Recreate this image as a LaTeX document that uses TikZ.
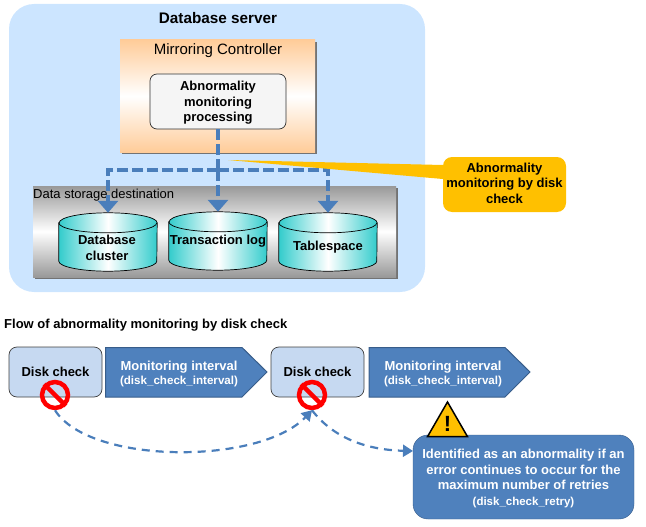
\documentclass[tikz,border=0pt]{standalone}
\usepackage{fontspec}
\setmainfont{Liberation Sans}
\usetikzlibrary{shapes, shapes.geometric}
\usetikzlibrary{arrows, arrows.meta}
\usetikzlibrary{calc, shadows}
\definecolor{serverblue}{HTML}{CCE5FF}
\definecolor{ctrlorange}{HTML}{FFCC99}
\definecolor{tealside}{HTML}{33CCCC}
\definecolor{checkblue}{HTML}{C6D9F1}
\definecolor{flowblue}{HTML}{4F81BD}
\definecolor{flowedge}{HTML}{385D8A}
\definecolor{dashblue}{HTML}{4A7EBB}
\definecolor{calloutgold}{HTML}{FFC000}
\tikzset{
        boldtext/.style={font=\fontsize{13}{15.5}\selectfont\bfseries, align=center},
        smallbold/.style={font=\fontsize{13}{13}\selectfont\bfseries, align=center},
        softshadow/.style={drop shadow={shadow xshift=2pt, shadow yshift=-2pt, fill=black!55, opacity=1}},
        sizedbox/.style 2 args={inner sep=0pt, minimum width=#1pt, minimum height=#2pt},
        cylside/.style={draw=black, line width=0.7pt, left color=tealside, right color=tealside, middle color=white},
        checkbox/.style={boldtext, draw=black!75, line width=0.7pt, rounded corners=8pt, fill=checkblue, sizedbox={93}{50}},
        flowarrow/.style={draw=flowedge, line width=1pt, fill=flowblue},
        stopsign/.style={shape=circle, draw=red, line width=4.5pt, inner sep=0pt, minimum size=26pt},
        readline/.style={draw=dashblue, line width=3.5pt, dash pattern=on 11pt off 4pt, >={Triangle[width=20pt,length=12pt]}},
        flowline/.style={draw=dashblue, line width=2.2pt, dash pattern=on 8pt off 6pt, >={Triangle[width=12pt,length=10pt]}}
}
\begin{document}
\begin{tikzpicture}[x=1pt, y=-1pt]
        \useasboundingbox (0,0) rectangle (646,527);
        \node[sizedbox={416}{288}, fill=serverblue, rounded corners=25pt] (server) at (217,148) {};
        \node[font=\fontsize{15.3}{17}\selectfont\bfseries] (servertitle) at (218,18) {Database server};
        \node[sizedbox={195}{112}, softshadow, top color=ctrlorange, bottom color=ctrlorange, middle color=white] (ctrl) at (217.5,96) {};
        \node[font=\fontsize{15}{17}\selectfont] (ctrltitle) at (218,51) {Mirroring Controller};
        \node[boldtext, sizedbox={136}{55}, draw=black!80, line width=0.7pt, fill=black!4, rounded corners=7pt] (proc) at (218,101.5)
        {\rule{0pt}{12.5pt}Abnormality\\monitoring\\processing};
        \node[sizedbox={363}{91}, softshadow, top color=black!40, bottom color=black!40, middle color=white] (storage) at (214.5,231.5) {};
        \node[font=\fontsize{13}{15}\selectfont, anchor=west, inner sep=0pt] (storagetitle) at (33,195.5) {Data storage destination};
        \node[sizedbox={98}{58}] (dbcyl) at (108,242) {};
        \node[sizedbox={98}{58}] (logcyl) at (218,241) {};
        \node[sizedbox={98}{58}] (spacecyl) at (328,242) {};
        \foreach \cylname in {dbcyl, logcyl, spacecyl} {
            \draw[cylside] ($(\cylname.north west)+(0,10)$) -- ($(\cylname.south west)+(0,-10)$)
                arc[start angle=180, end angle=360, x radius=49pt, y radius=10pt]
                -- ($(\cylname.north east)+(0,10)$)
                arc[start angle=0, end angle=180, x radius=49pt, y radius=10pt] -- cycle;
            \draw[black, line width=0.7pt] ($(\cylname.north west)+(0,10)$)
                arc[start angle=180, end angle=360, x radius=49pt, y radius=10pt];
        }
        \node[boldtext] (dbtext) at (107,248) {Database\\cluster};
        \node[boldtext] (logtext) at (218,241) {Transaction log};
        \node[boldtext] (spacetext) at (328,247.5) {Tablespace};
        \coordinate (branch) at (218,170);
        \draw[readline] (proc.south) -- (branch);
        \draw[readline, ->] (branch) -- (logcyl.north);
        \draw[readline, ->] (branch) -- (branch -| dbcyl) -- (dbcyl.north);
        \draw[readline, ->] (branch) -- (branch -| spacecyl) -- (spacecyl.north);
        \node[boldtext, sizedbox={123}{55}, fill=calloutgold, rounded corners=9pt] (callout) at (504.5,184.5)
        {Abnormality\\monitoring by disk\\check\\[-13pt]};
        \coordinate (callouttip) at (228,160);
        \fill[calloutgold] (callouttip) -- (callout.west |- 0,165) -- (callout.west |- 0,179) -- cycle;
        \node[boldtext, anchor=west, inner sep=0pt] (flowtitle) at (4,325) {Flow of abnormality monitoring by disk check};
        \node[checkbox] (checka) at (55.5,372) {Disk check};
        \node[checkbox] (checkb) at (317.5,372) {Disk check};
        \path[flowarrow] (105.5,347.5) -- (242,347.5) -- (267,372) -- (242,397) -- (105.5,397) -- cycle;
        \path[flowarrow] (369,347.5) -- (505,347.5) -- (530,372) -- (505,397) -- (369,397) -- cycle;
        \node[smallbold, text=white] (intervala) at (179,374)
        {Monitoring interval\\[1pt]{\fontsize{11.6}{13}\selectfont (disk\_check\_interval)}};
        \node[smallbold, text=white] (intervalb) at (443,374)
        {Monitoring interval\\[1pt]{\fontsize{11.6}{13}\selectfont (disk\_check\_interval)}};
        \node[stopsign] (stopa) at (55,395) {};
        \node[stopsign] (stopb) at (312,395) {};
        \foreach \stopname in {stopa, stopb}
            \draw[red, line width=4.5pt] (\stopname.135) -- (\stopname.-45);
        \node[boldtext, text=white, sizedbox={221}{84}, draw=flowedge, fill=flowblue, rounded corners=15pt] (retry) at (523.5,477)
        {\rule{0pt}{12.5pt}Identified as an abnormality if an\\error continues to occur for the\\maximum number of retries\\{\fontsize{11.5}{13}\selectfont (disk\_check\_retry)}};
        \coordinate (retryin) at (413,451);
        \draw[flowline, ->] (stopa.south) .. controls (90,465) and (260,465) .. (stopb.south);
        \draw[flowline, ->] (stopb.south) .. controls (335,440) and (370,450) .. (retryin);
        \node[shape=regular polygon, regular polygon sides=3, draw=black, line width=1.5pt, fill=calloutgold, inner sep=0pt, minimum size=46pt] (warn) at (447.5,425) {};
        \node[font=\fontsize{22}{22}\selectfont\bfseries, inner sep=0pt] (warnmark) at (447.5,424) {!};
\end{tikzpicture}
\end{document}
